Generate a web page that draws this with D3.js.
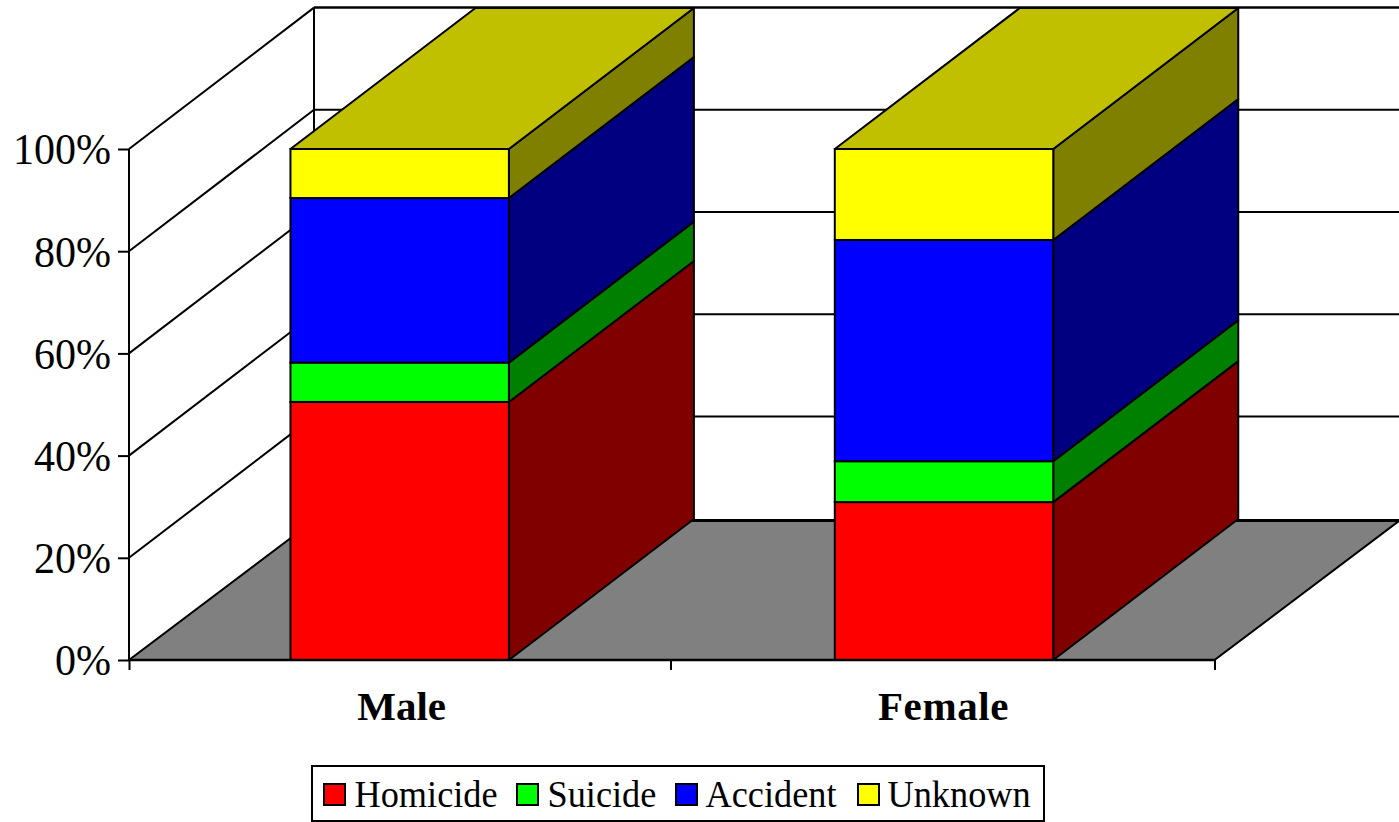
<!DOCTYPE html>
<html>
<head>
<meta charset="utf-8">
<script src="https://cdn.jsdelivr.net/npm/d3@7"></script>
<style>
html, body { margin: 0; padding: 0; background: #fff; }
svg { display: block; font-family: "Liberation Serif", serif; }
</style>
</head>
<body>
<svg id="chart" width="1399" height="822"></svg>
<script>
//Datos
const categories = ['Male', 'Female'];
const seriesNames = ['Homicide', 'Suicide', 'Accident', 'Unknown'];
const homicide = [50.5, 30.9];
const suicide = [7.7, 8.0];
const accident = [32.2, 43.3];
const unknown = [9.6, 17.8];
const yTicks = [0, 0.2, 0.4, 0.6, 0.8, 1];

const frontColors = ['#ff0000', '#00ff00', '#0000ff', '#ffff00'];
const sideColors = ['#800000', '#008000', '#000080', '#808000'];
const topColor = '#c0c000';

//Geometria del grafico
const plotLeft = 129, plotRight = 1214.5, plotBottom = 660, plotTop = 149;
const depthX = 185;
const gridDepthY = -141.4, barDepthY = -141, floorDepthY = -139.5;

const svg = d3.select('#chart');

const rows = categories.map((c, i) => ({
    category: c,
    Homicide: homicide[i],
    Suicide: suicide[i],
    Accident: accident[i],
    Unknown: unknown[i]
}));

const stacked = d3.stack()
    .keys(seriesNames)
    .offset(d3.stackOffsetExpand)(rows);

const y = d3.scaleLinear().domain([0, 1]).range([plotBottom, plotTop]);
const xAxisScale = d3.scaleLinear().domain([0, 1, 2]).range([plotLeft, 670.5, plotRight]);
const x = d3.scaleBand()
    .domain(categories)
    .range([126.8, 1216.9])
    .paddingInner(0.5987)
    .paddingOuter(0.30064);

const line = d3.line();
const poly = pts => line(pts) + 'Z';

//Comprime el texto un poco en horizontal, como en el original
function squeeze(sel, k) {
    sel.attr('lengthAdjust', 'spacingAndGlyphs')
        .attr('textLength', function() { return this.getComputedTextLength() * k; });
}

//Paredes y suelo
const walls = svg.append('g');

walls.selectAll('.side-grid')
    .data(yTicks.slice(1))
    .enter()
    .append('line')
    .attr('x1', plotLeft)
    .attr('y1', d => y(d))
    .attr('x2', plotLeft + depthX)
    .attr('y2', d => y(d) + gridDepthY)
    .attr('stroke', '#000')
    .attr('stroke-width', 2);

walls.selectAll('.back-grid')
    .data(yTicks.slice(1))
    .enter()
    .append('line')
    .attr('x1', plotLeft + depthX)
    .attr('y1', d => y(d) + gridDepthY)
    .attr('x2', plotRight + depthX)
    .attr('y2', d => y(d) + gridDepthY)
    .attr('stroke', '#000')
    .attr('stroke-width', d => d === 1 ? 2.5 : 2);

walls.append('line')
    .attr('x1', plotLeft + depthX)
    .attr('y1', plotBottom + floorDepthY)
    .attr('x2', plotLeft + depthX)
    .attr('y2', plotTop + gridDepthY)
    .attr('stroke', '#000')
    .attr('stroke-width', 2);

walls.append('path')
    .attr('d', poly([
        [plotLeft, plotBottom],
        [plotRight, plotBottom],
        [plotRight + depthX, plotBottom + floorDepthY],
        [plotLeft + depthX, plotBottom + floorDepthY]
    ]))
    .attr('fill', '#808080')
    .attr('stroke', '#000')
    .attr('stroke-width', 2);

walls.append('line')
    .attr('x1', plotLeft + depthX)
    .attr('y1', plotBottom + floorDepthY)
    .attr('x2', plotRight + depthX)
    .attr('y2', plotBottom + floorDepthY)
    .attr('stroke', '#000')
    .attr('stroke-width', 3);

//Barras
const bars = svg.append('g');

stacked.forEach((serie, s) => {
    const g = bars.append('g');

    g.selectAll('.side')
        .data(serie)
        .enter()
        .append('path')
        .attr('d', d => {
            const x1 = x(d.data.category) + x.bandwidth();
            return poly([
                [x1, y(d[0])],
                [x1 + depthX, y(d[0]) + barDepthY],
                [x1 + depthX, y(d[1]) + barDepthY],
                [x1, y(d[1])]
            ]);
        })
        .attr('fill', sideColors[s])
        .attr('stroke', '#000')
        .attr('stroke-width', 2)
        .attr('stroke-linejoin', 'round');

    g.selectAll('.front')
        .data(serie)
        .enter()
        .append('rect')
        .attr('x', d => x(d.data.category))
        .attr('y', d => y(d[1]))
        .attr('width', x.bandwidth())
        .attr('height', d => y(d[0]) - y(d[1]))
        .attr('fill', frontColors[s])
        .attr('stroke', '#000')
        .attr('stroke-width', 2);

    if (s === stacked.length - 1) {
        g.selectAll('.cap')
            .data(serie)
            .enter()
            .append('path')
            .attr('d', d => {
                const x0 = x(d.data.category);
                const x1 = x0 + x.bandwidth();
                const yt = y(d[1]);
                return poly([
                    [x0, yt],
                    [x1, yt],
                    [x1 + depthX, yt + barDepthY],
                    [x0 + depthX, yt + barDepthY]
                ]);
            })
            .attr('fill', topColor)
            .attr('stroke', '#000')
            .attr('stroke-width', 2)
            .attr('stroke-linejoin', 'round');
    }
});

//Ejes
const yAxis = d3.axisLeft(y)
    .tickValues(yTicks)
    .tickFormat(d3.format('.0%'))
    .tickSize(11)
    .tickPadding(8);

const yAxisG = svg.append('g')
    .attr('transform', `translate(${plotLeft},0)`)
    .call(yAxis);
yAxisG.select('.domain').attr('d', line([[0, plotTop], [0, plotBottom]])).attr('stroke-width', 2);
yAxisG.selectAll('.tick line').attr('stroke-width', 2);
yAxisG.selectAll('text')
    .attr('font-family', '"Liberation Serif", serif')
    .attr('font-size', 44)
    .attr('fill', '#000')
    .attr('x', -18)
    .attr('dy', '0.34em')
    .call(squeeze, 0.955);

const xAxis = d3.axisBottom(xAxisScale)
    .tickValues([0, 1, 2])
    .tickFormat(() => '')
    .tickSize(10);

const xAxisG = svg.append('g')
    .attr('transform', `translate(0,${plotBottom})`)
    .call(xAxis);
xAxisG.select('.domain').attr('d', line([[plotLeft, 0], [plotRight, 0]])).attr('stroke-width', 2.5);
xAxisG.selectAll('.tick line').attr('stroke-width', 2);

svg.selectAll('.cat-label')
    .data(categories)
    .enter()
    .append('text')
    .attr('x', d => x(d) + x.bandwidth() / 2)
    .attr('dx', d => d === 'Male' ? 2 : -0.5)
    .attr('y', 720)
    .attr('text-anchor', 'middle')
    .attr('font-size', 41)
    .attr('font-weight', 'bold')
    .attr('letter-spacing', d => d === 'Female' ? 0.6 : 0)
    .text(d => d);

//Leyenda
const legendKeyX = [324, 517, 676, 858];
const legendTextGap = [30.5, 30.5, 29.5, 29.5];
const legend = svg.append('g');

legend.append('rect')
    .attr('x', 312)
    .attr('y', 766)
    .attr('width', 732)
    .attr('height', 55)
    .attr('fill', '#fff')
    .attr('stroke', '#000')
    .attr('stroke-width', 2);

const items = legend.selectAll('.item')
    .data(seriesNames)
    .enter()
    .append('g')
    .attr('transform', (d, i) => `translate(${legendKeyX[i]},784)`);

items.append('rect')
    .attr('width', 21)
    .attr('height', 21)
    .attr('fill', (d, i) => frontColors[i])
    .attr('stroke', '#000')
    .attr('stroke-width', 2);

items.append('text')
    .attr('x', (d, i) => legendTextGap[i])
    .attr('y', 23)
    .attr('font-size', 38)
    .text(d => d)
    .call(squeeze, 0.955);
</script>
</body>
</html>
